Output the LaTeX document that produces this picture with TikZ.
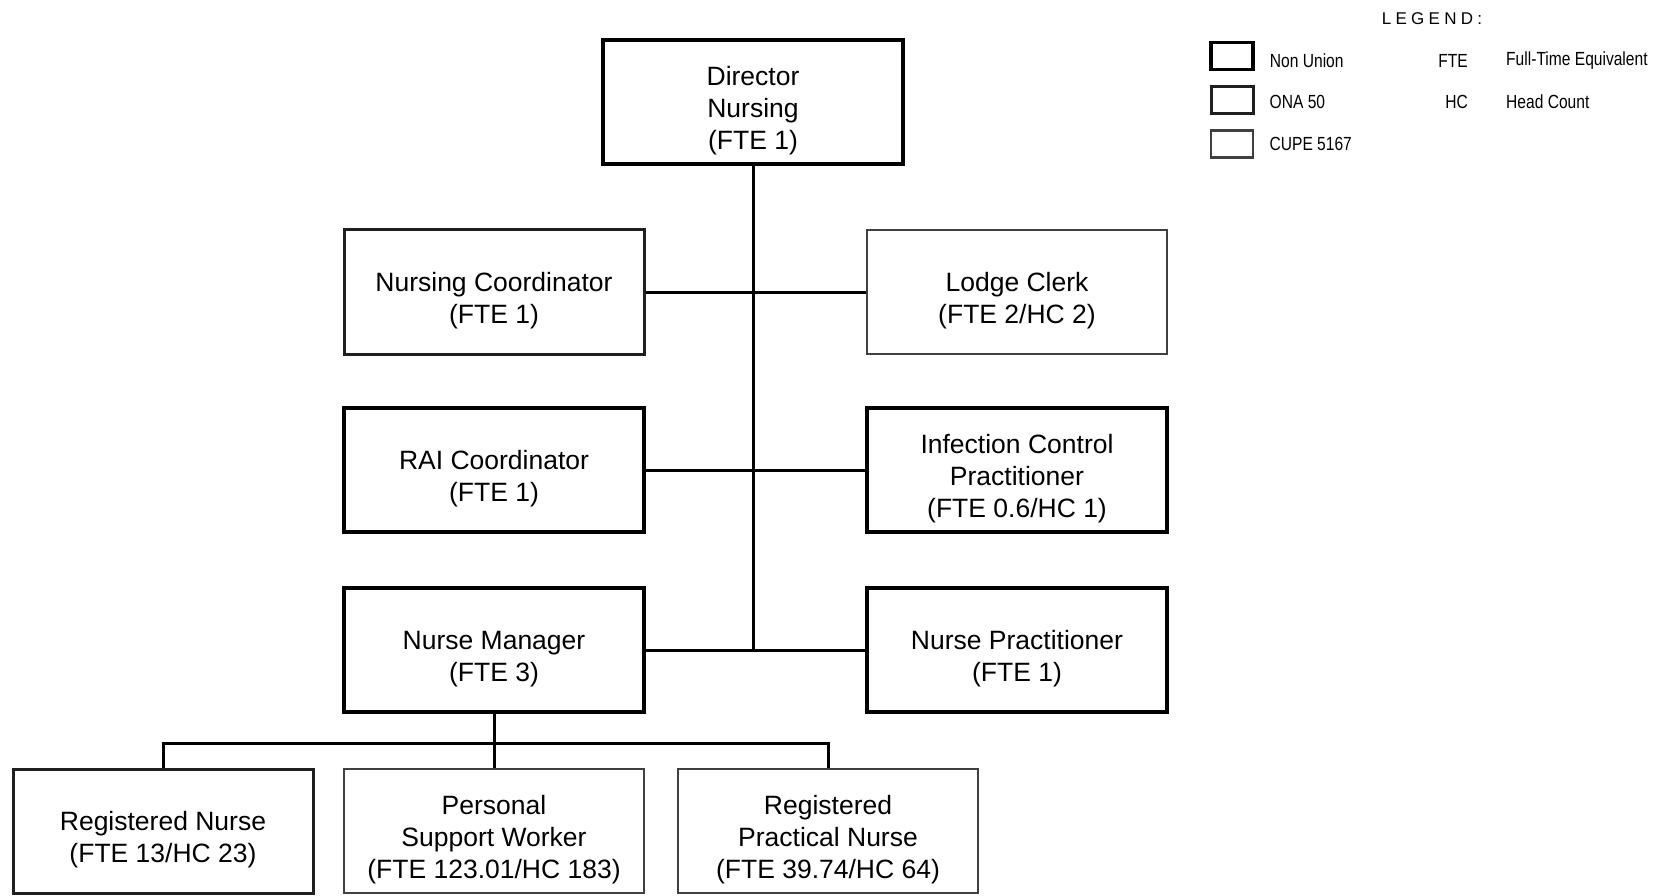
\documentclass[tikz,border=0pt]{standalone}
\usepackage{fontspec}
\setmainfont{Liberation Sans}
\newfontfamily\narrowfont[FakeStretch=0.82]{Liberation Sans}
\newfontfamily\spacedfont[LetterSpace=25]{Liberation Sans}
\usetikzlibrary{positioning}
\definecolor{onagray}{gray}{0.12}
\definecolor{cupegray}{gray}{0.25}

\begin{document}
\begin{tikzpicture}[x=1pt,y=-1pt,
  post/.style={draw,line width=3.5pt,minimum width=300pt,minimum height=124pt,align=center,inner sep=0pt,font=\fontsize{26.5}{32}\selectfont},
  two/.style={text height=68pt},
  three/.style={text height=100pt},
  nonunion/.style={post,draw=black},
  ona/.style={post,draw=onagray,line width=3pt},
  cupe/.style={post,draw=cupegray,line width=2.8pt},
  link/.style={line width=3pt},
  key/.style={minimum width=42pt,minimum height=27pt,inner sep=0pt},
  keytext/.style={font={\narrowfont\fontsize{19}{22}\selectfont},inner sep=0pt}]
  \useasboundingbox (0,0) rectangle (1668,896);

  \node[nonunion,three] (dir) at (753,102) {Director\\Nursing\\(FTE 1)};
  \node[ona,two] (nc) at (494,292) {Nursing Coordinator\\(FTE 1)};
  \node[cupe,two] (lc) at (1017,292) {Lodge Clerk\\(FTE 2/HC 2)};
  \node[nonunion,two] (rai) at (494,470) {RAI Coordinator\\(FTE 1)};
  \node[nonunion,three] (icp) at (1017,470) {Infection Control\\Practitioner\\(FTE 0.6/HC 1)};
  \node[nonunion,two] (nm) at (494,650) {Nurse Manager\\(FTE 3)};
  \node[nonunion,two] (np) at (1017,650) {Nurse Practitioner\\(FTE 1)};
  \node[ona,two] (rn) at (163,831) {Registered Nurse\\(FTE 13/HC 23)};
  \node[cupe,three] (psw) at (494,831) {Personal\\Support Worker\\(FTE 123.01/HC 183)};
  \node[cupe,three] (rpn) at (828,831) {Registered\\Practical Nurse\\(FTE 39.74/HC 64)};

  \draw[link] (dir.south) -- (dir.south |- nm.east);
  \draw[link] (nc.east) -- (lc.west);
  \draw[link] (rai.east) -- (icp.west);
  \draw[link] (nm.east) -- (np.west);
  \coordinate (bar) at (494,743);
  \draw[link] (nm.south) -- (psw.north);
  \draw[link] (rn.north) |- (bar) -| (rpn.north);

  \node[font={\spacedfont\fontsize{17}{20}\selectfont}] (legend) at (1432,19) {LEGEND:};
  \node[key,draw=black,line width=3.5pt] (k1) at (1232,56) {};
  \node[key,draw=onagray,line width=3pt] (k2) at (1232,100) {};
  \node[key,draw=cupegray,line width=2.8pt] (k3) at (1232,144) {};
  \node[keytext,right=15pt of k1,yshift=-5pt] (nonu) {Non Union};
  \node[keytext,right=15pt of k2,yshift=-2pt] (ona50) {ONA 50};
  \node[keytext,right=15pt of k3] (cupe5167) {CUPE 5167};
  \node[keytext,anchor=east] (fte) at (1468,61) {FTE};
  \node[keytext,anchor=east] (hc) at (1468,102) {HC};
  \node[keytext,anchor=west] (ftetext) at (1506,61) {Full-Time Equivalent};
  \node[keytext,anchor=west] (hctext) at (1506,102) {Head Count};
\end{tikzpicture}
\end{document}
